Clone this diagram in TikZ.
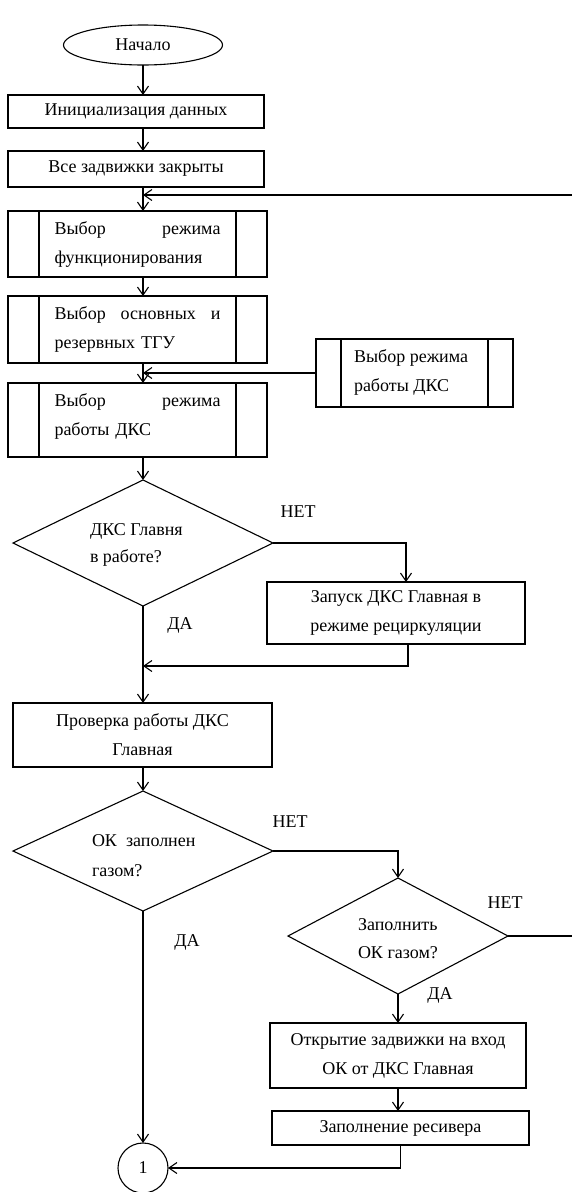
\documentclass[tikz,border=0pt]{standalone}
\usepackage{fontspec}
\setmainfont{Liberation Serif}
\usetikzlibrary{shapes.geometric,arrows.meta}

\begin{document}
\begin{tikzpicture}[x=1pt,y=-1pt,
  line width=1.1pt,
  every node/.style={inner sep=0pt,outer sep=0pt,font=\fontsize{18}{29}\selectfont},
  arr/.style={-{Straight Barb[length=8pt,width=11pt,line width=1.1pt]}},
  stepbox/.style={draw,rectangle,minimum width=#1},
  terminal/.style={draw,ellipse,minimum width=159pt,minimum height=40pt},
  decision/.style={draw,diamond,aspect=2},
  connector/.style={draw,circle,minimum size=50pt},
  lbl/.style={font=\fontsize{18}{22}\selectfont}
]
\useasboundingbox (0,0) rectangle (572,1192);

% main column
\node[terminal] (start) at (143,45) {Начало};
\node[stepbox=256pt,minimum height=33pt] (b1) at (136,111.5) {Инициализация данных};
\node[stepbox=256pt,minimum height=36pt] (b2) at (136,169) {Все задвижки закрыты};
\node[stepbox=259pt,minimum height=66pt,text width=166pt,align=left] (b3) at (137.5,244)
  {Выбор\hfill режима\\функционирования};
\node[stepbox=259pt,minimum height=67pt,text width=166pt,align=left] (b4) at (137.5,329.5)
  {Выбор\hfill основных\hfill и\\резервных ТГУ};
\node[stepbox=197pt,minimum height=68pt] (side) at (414.5,373) {};
\node[anchor=west,align=left] (sidetxt) at (354,372) {Выбор режима\\работы ДКС};
\node[stepbox=259pt,minimum height=74pt] (b5) at (137.5,420) {};
\node[text width=166pt,align=left] (b5txt) at (137.5,416) {Выбор\hfill режима\\работы ДКС};

% vertical bars of the predefined-process boxes
\foreach \n/\d in {b3/31,b4/31,b5/31,side/25}{
  \draw ([xshift=\d pt]\n.north west) -- ([xshift=\d pt]\n.south west);
  \draw ([xshift=-\d pt]\n.north east) -- ([xshift=-\d pt]\n.south east);
}

% first decision
\node[decision,minimum width=260pt,minimum height=126pt] (d1) at (143,543) {};
\node[anchor=west,align=left,font=\fontsize{18}{27}\selectfont] (d1txt) at (90,545) {ДКС Главня\\в работе?};
\node[stepbox=258pt,minimum height=62pt,align=center] (b6) at (396,613) {Запуск ДКС Главная в\\режиме рециркуляции};
\node[stepbox=259pt,minimum height=64pt,align=center] (b7) at (142.5,735) {Проверка работы ДКС\\Главная};

% second decision
\node[decision,minimum width=260pt,minimum height=120pt] (d2) at (143,851) {};
\node[anchor=west,align=left,font=\fontsize{18}{30}\selectfont] (d2txt) at (92,856) {ОК\ \ заполнен\\газом?};
\node[decision,minimum width=220pt,minimum height=116pt] (d3) at (398,936) {};
\node[anchor=west,align=left,font=\fontsize{18}{28}\selectfont] (d3txt) at (358,939) {Заполнить\\ОК газом?};
\node[stepbox=256pt,minimum height=65pt,align=center] (b8) at (398,1055.5) {Открытие задвижки на вход\\ОК от ДКС Главная};
\node[stepbox=257pt,minimum height=34pt] (b9) at (400.5,1128) {Заполнение ресивера};
\node[connector] (c1) at (143,1168) {1};

% branch labels
\node[lbl] (l1) at (298,512) {НЕТ};
\node[lbl] (l2) at (180,625) {ДА};
\node[lbl] (l3) at (290,822) {НЕТ};
\node[lbl] (l4) at (187,942) {ДА};
\node[lbl] (l5) at (505,903) {НЕТ};
\node[lbl] (l6) at (440,995) {ДА};

% free ends and junctions
\coordinate (loopR) at (572,195);
\coordinate (d3R) at (572,936);
\coordinate (m1) at (143,666);

% connectors
\draw[arr] (start.south) -- (start.south |- b1.north);
\draw[arr] (b1.south -| start) -- (b2.north -| start);
\draw[arr] (b2.south -| start) -- (b3.north -| start);
\draw[arr] (loopR) -- (loopR -| start);
\draw[arr] (b3.south -| start) -- (b4.north -| start);
\draw[arr] (b4.south -| start) -- (b5.north -| start);
\draw[arr] (side.west) -- (side.west -| start);
\draw[arr] (b5.south -| start) -- (d1.north);
\draw[arr] (d1.east) -| ([xshift=10pt]b6.north);
\draw[arr] (d1.south) -- (b7.north -| d1.south);
\draw[arr] ([xshift=12pt]b6.south) |- (m1);
\draw[arr] (b7.south -| d2.north) -- (d2.north);
\draw[arr] (d2.east) -| (d3.north);
\draw[arr] (d2.south) -- (c1.north);
\draw (d3.east) -- (d3R);
\draw[arr] (d3.south) -- (b8.north -| d3.south);
\draw[arr] (b8.south) -- (b8.south |- b9.north);
\draw[arr] (b9.south) |- (c1.east);
\end{tikzpicture}
\end{document}
